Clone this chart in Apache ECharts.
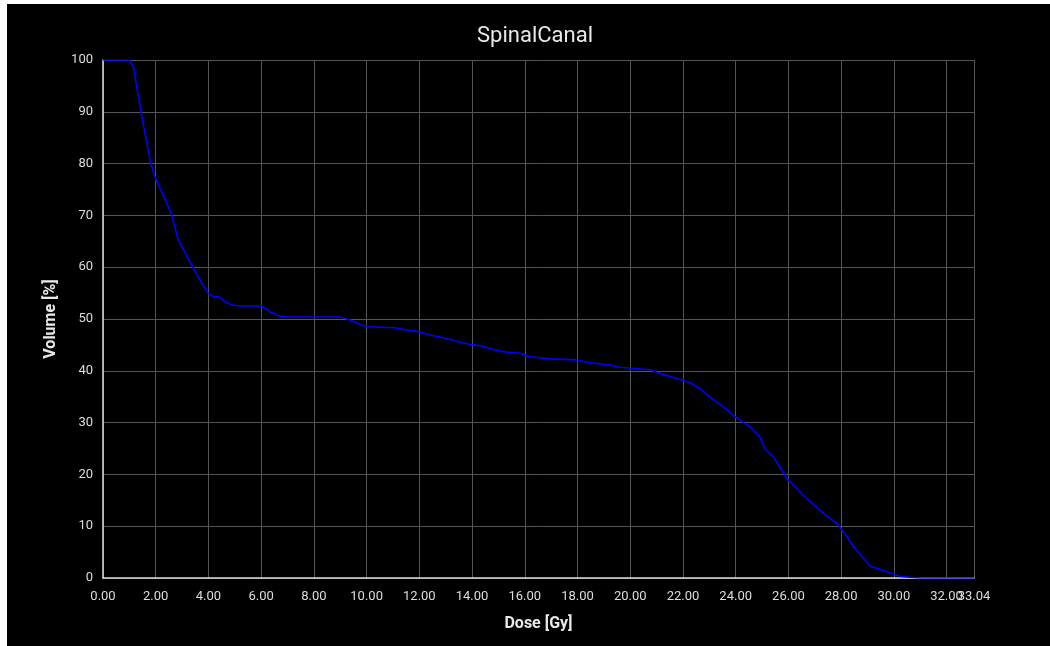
<!DOCTYPE html>
<html>
<head>
<meta charset="utf-8">
<script src="https://cdn.jsdelivr.net/npm/echarts@6/dist/echarts.min.js"></script>
<style>
  html, body { margin: 0; padding: 0; background: #ffffff; width: 1050px; height: 646px; overflow: hidden; }
  #chart { position: absolute; left: 7px; top: 4px; width: 1043px; height: 642px; background: #000000; }
</style>
</head>
<body>
<div id="chart"></div>
<script>
// Dose-volume histogram for the spinal canal
const doseGy = [
  0, 0.99, 1.15, 1.44, 1.81, 2.0, 2.33, 2.61, 2.85, 3.3, 3.68, 3.98, 4.17, 4.44, 4.63, 4.9, 5.2,
  6.03, 6.33, 6.64, 7.1, 9.0, 9.37, 9.83, 10.1, 11.08, 11.27, 12.03, 12.4, 13.16, 13.54, 13.92,
  14.37, 14.87, 15.31, 15.82, 16.2, 16.96, 17.97, 18.41, 19.23, 19.61, 20.75, 21.07, 21.64,
  22.27, 22.65, 23.15, 23.53, 23.98, 24.54, 24.92, 25.11, 25.43, 25.94, 26.69, 27.39, 27.83,
  28.21, 28.53, 29.1, 29.73, 30.24, 31.0, 33.04
];
const volumePct = [
  100, 100, 98.7, 90, 80, 77, 73.4, 70, 65.3, 61, 57.5, 55, 54.4, 54.2, 53.3, 52.7, 52.5,
  52.5, 51.4, 50.6, 50.4, 50.4, 49.8, 48.8, 48.5, 48.3, 48.1, 47.5, 46.9, 46.1, 45.5, 45.1,
  44.8, 44.0, 43.6, 43.4, 42.7, 42.3, 42.1, 41.6, 41.1, 40.7, 40.2, 39.6, 38.7,
  37.7, 36.5, 34.4, 33.1, 31.1, 29.2, 27.2, 24.9, 23.4, 19.2, 15.4, 12.2, 10.6,
  8.0, 5.7, 2.3, 1.2, 0.3, 0, 0
];
// Dose ticks every 2 Gy; the maximum dose gets its own label
const doseTicks = [0, 2, 4, 6, 8, 10, 12, 14, 16, 18, 20, 22, 24, 26, 28, 30, 32, 33.04];
const doseMax = 33.04;
const chartTitle = 'SpinalCanal';
const xName = 'Dose [Gy]';
const yName = 'Volume [%]';

const points = doseGy.map((d, i) => [d, volumePct[i]]);

const chart = echarts.init(document.getElementById('chart'), null, { renderer: 'canvas' });
const labelColor = '#dddddd';
const gridColor = '#555555';
const tickLabelStyle = { color: labelColor, fontFamily: 'Roboto', fontSize: 13, margin: 12 };

chart.setOption({
  backgroundColor: '#000000',
  animation: false,
  title: {
    text: chartTitle,
    left: 465,
    top: 16,
    textStyle: { color: '#e8e8e8', fontFamily: 'Roboto', fontSize: 22, fontWeight: 'normal' }
  },
  grid: { left: 96, right: 76, top: 56, bottom: 68, containLabel: false },
  xAxis: [{
    type: 'value',
    position: 'bottom',
    min: 0,
    max: doseMax,
    interval: 2,
    name: xName,
    nameLocation: 'middle',
    nameGap: 38,
    nameTextStyle: { color: '#e8e8e8', fontFamily: 'Roboto', fontSize: 16, fontWeight: 'bold' },
    axisLine: { show: true, lineStyle: { color: '#dddddd', width: 1.5 } },
    axisTick: { show: false, customValues: doseTicks },
    axisLabel: Object.assign({}, tickLabelStyle, {
      hideOverlap: false,
      customValues: doseTicks.filter(v => v !== doseMax),
      formatter: v => v.toFixed(2)
    }),
    splitLine: { show: true, lineStyle: { color: gridColor, width: 1 } }
  }, {
    // label for the maximum dose, drawn on an overlaid axis so it can sit next to 32.00
    type: 'value',
    position: 'bottom',
    offset: 0,
    min: 0,
    max: doseMax,
    axisLine: { show: false },
    axisTick: { show: false },
    splitLine: { show: false },
    axisLabel: Object.assign({}, tickLabelStyle, {
      customValues: [doseMax],
      showMaxLabel: true,
      formatter: v => v.toFixed(2)
    })
  }],
  yAxis: {
    type: 'value',
    min: 0,
    max: 100,
    interval: 10,
    name: yName,
    nameLocation: 'middle',
    nameGap: 44,
    nameTextStyle: { color: '#e8e8e8', fontFamily: 'Roboto', fontSize: 16, fontWeight: 'bold' },
    axisLine: { show: true, lineStyle: { color: '#dddddd', width: 1.5 } },
    axisTick: { show: false },
    axisLabel: { color: labelColor, fontFamily: 'Roboto', fontSize: 13, margin: 10 },
    splitLine: { show: true, lineStyle: { color: gridColor, width: 1 } }
  },
  series: [{
    type: 'line',
    xAxisIndex: 0,
    data: points,
    showSymbol: false,
    smooth: false,
    lineStyle: { color: '#0000ff', width: 1.6 },
    itemStyle: { color: '#0000ff' }
  }]
});
</script>
</body>
</html>
